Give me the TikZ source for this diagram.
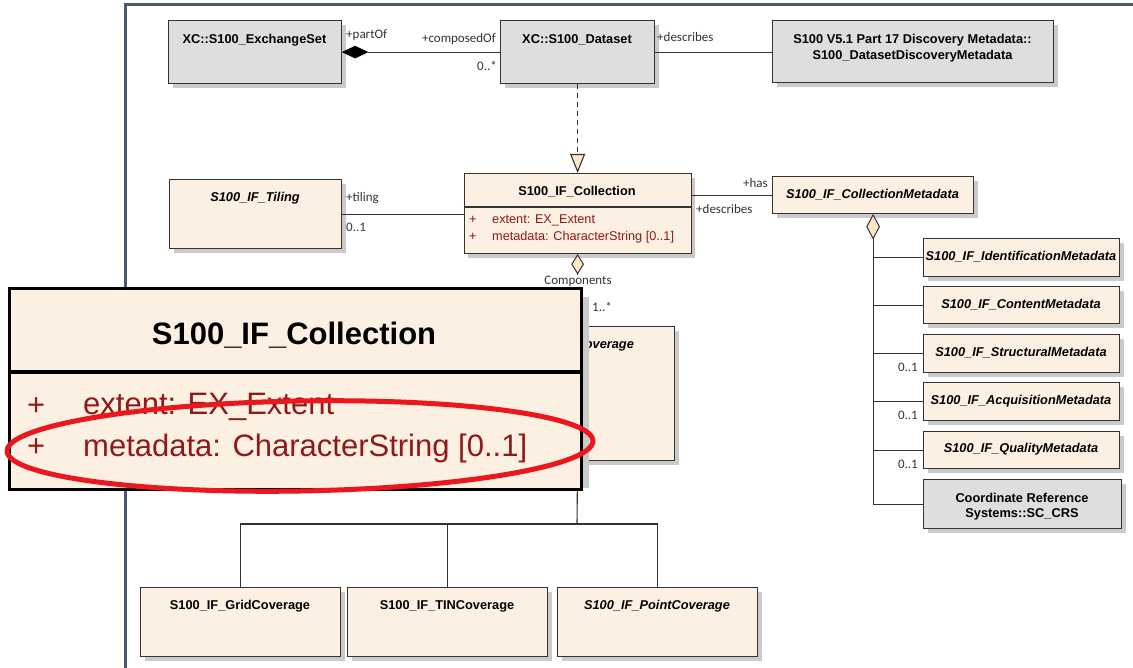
\documentclass[tikz,border=0pt]{standalone}
\usepackage{fontspec}
\setmainfont{Liberation Sans}
\newfontfamily\labf{Carlito}
\usetikzlibrary{arrows.meta,shapes.geometric,shadows,calc}
\definecolor{peach}{RGB}{251,240,226}
\definecolor{grayf}{RGB}{222,222,222}
\definecolor{shd}{RGB}{202,202,202}
\definecolor{linec}{RGB}{51,51,51}
\definecolor{attr}{RGB}{145,25,25}
\definecolor{framec}{RGB}{72,88,112}
\definecolor{dfill}{RGB}{252,229,200}
\definecolor{ovalred}{RGB}{236,22,30}
\tikzset{
 umlbox/.style={draw=linec, line width=1.2pt, fill=peach, inner sep=0pt, anchor=north west,
   drop shadow={shadow xshift=4pt, shadow yshift=-4pt, fill=shd, opacity=1}},
 graybox/.style={umlbox, fill=grayf},
 ttl/.style={font=\fontsize{12.8}{15.5}\selectfont\bfseries, inner sep=0pt, align=center, text=black},
 ttli/.style={font=\fontsize{12.8}{15.5}\selectfont\bfseries\itshape, inner sep=0pt, text=black},
 role/.style={font=\labf\fontsize{13}{15}\selectfont, inner sep=0pt, text=linec},
 attrt/.style={font=\fontsize{12.7}{15}\selectfont, text=attr, inner sep=0pt, anchor=west},
 bigattr/.style={font=\fontsize{31}{36}\selectfont, text=attr, inner sep=0pt, anchor=west},
 conn/.style={draw=linec, line width=1.1pt},
 hdia/.style={diamond, draw=linec, fill=dfill, line width=1pt, inner sep=0pt, anchor=north},
}
\begin{document}
\begin{tikzpicture}[x=1pt,y=-1pt]
\useasboundingbox (0,0) rectangle (1133,668);
% frame of the diagram
\draw[framec, line width=3pt] (125,668) -- (125,5) -- (1133,5);

% top row
\node[graybox, minimum width=173, minimum height=63] (exch) at (168,20) {};
\node[ttl] (exchT) at (254.5,40) {XC::S100\_ExchangeSet};
\node[graybox, minimum width=154, minimum height=63] (ds) at (500,20) {};
\node[ttl] (dsT) at (577,40) {XC::S100\_Dataset};
\node[graybox, minimum width=281, minimum height=62] (disc) at (772,20) {};
\node[ttl] (discT) at (912.5,48) {S100 V5.1 Part 17 Discovery Metadata::\\S100\_DatasetDiscoveryMetadata};

\node[diamond, fill=black, draw=black, line width=0.8pt, inner sep=0pt, minimum width=25pt, minimum height=12pt, anchor=west] (cdia) at (exch.east) {};
\draw[conn] (cdia.east) -- (ds.west);
\draw[conn] (ds.east) -- (disc.west |- ds.east);
\node[role, anchor=west] (lpart) at (346,35) {+partOf};
\node[role, anchor=east] (lcomp) at (496,39) {+composedOf};
\node[role, anchor=east] (lmult) at (497,66) {0..*};
\node[role, anchor=west] (ldesc) at (657,37) {+describes};

% collection row
\node[umlbox, minimum width=172, minimum height=69] (til) at (169,179) {};
\node[ttli] (tilT) at (255,198) {S100\_IF\_Tiling};
\node[umlbox, minimum width=227, minimum height=80] (col) at (463.5,173) {};
\coordinate (sepc) at (0,207);
\draw[conn] (col.west |- sepc) -- (col.east |- sepc);
\node[ttl] (colT) at (577,192) {S100\_IF\_Collection};
\node[attrt] (colP1) at (469,220) {+};
\node[attrt] (colA1) at (492,220) {extent: EX\_Extent};
\node[attrt] (colP2) at (469,237) {+};
\node[attrt] (colA2) at (492,237) {metadata: CharacterString [0..1]};

\draw[conn, dashed, dash pattern=on 5pt off 4pt, -{Triangle[length=19pt,width=15pt,fill=dfill]}] (ds.south) -- (ds.south |- col.north);

\draw[conn] (til.east) -- (til.east -| col.west);
\node[role, anchor=west] (ltil) at (346,198) {+tiling};
\node[role, anchor=west] (ltilm) at (346,227) {0..1};

\node[umlbox, minimum width=201, minimum height=37] (cm) at (772,176) {};
\node[ttli] (cmT) at (872.5,195) {S100\_IF\_CollectionMetadata};
\draw[conn] (col.east |- cm.west) -- (cm.west);
\node[role, anchor=east] (lhas) at (768,183) {+has};
\node[role, anchor=west] (ldesc2) at (696,209) {+describes};

% metadata column
\node[hdia, minimum width=13pt, minimum height=24pt] (adia) at (cm.south) {};
\node[umlbox, minimum width=196, minimum height=38] (idm) at (923,238) {};
\node[ttli] (idmT) at (1021,257) {S100\_IF\_IdentificationMetadata};
\node[umlbox, minimum width=196, minimum height=37] (cnt) at (923,286) {};
\node[ttli] (cntT) at (1021,304.5) {S100\_IF\_ContentMetadata};
\node[umlbox, minimum width=196, minimum height=38] (stm) at (923,334) {};
\node[ttli] (stmT) at (1021,353) {S100\_IF\_StructuralMetadata};
\node[umlbox, minimum width=196, minimum height=38] (acq) at (923,382) {};
\node[ttli] (acqT) at (1021,401) {S100\_IF\_AcquisitionMetadata};
\node[umlbox, minimum width=196, minimum height=37] (qlt) at (923,431) {};
\node[ttli] (qltT) at (1021,449.5) {S100\_IF\_QualityMetadata};
\node[graybox, minimum width=198, minimum height=49] (crs) at (923,479) {};
\node[ttl] (crsT) at (1022,506.5) {Coordinate Reference\\Systems::SC\_CRS};
\draw[conn] (adia.south) |- (idm.west);
\draw[conn] (adia.south) |- (cnt.west);
\draw[conn] (adia.south) |- (stm.west);
\draw[conn] (adia.south) |- (acq.west);
\draw[conn] (adia.south) |- (qlt.west);
\draw[conn] (adia.south) |- (crs.west);
\node[role, anchor=east] (m1) at ($(stm.west)+(-5,14)$) {0..1};
\node[role, anchor=east] (m2) at ($(acq.west)+(-5,14)$) {0..1};
\node[role, anchor=east] (m3) at ($(qlt.west)+(-5,14)$) {0..1};

% coverage
\node[hdia, minimum width=12pt, minimum height=19pt] (gdia) at (col.south) {};
\node[umlbox, minimum width=194, minimum height=134] (cov) at (480,326) {};
\node[ttli] (covT) at (577,345) {S100\_IF\_Coverage};
\draw[conn] (gdia.south) -- (gdia.south |- cov.north);
\node[role, fill=white, inner sep=0.5pt] (lcompn) at (578,281) {Components};
\node[role, anchor=west] (lcm) at (592,307) {1..*};

\node[umlbox, minimum width=200, minimum height=69] (grid) at (140,587) {};
\node[ttl] (gridT) at (240,606) {S100\_IF\_GridCoverage};
\node[umlbox, minimum width=200, minimum height=69] (tin) at (347,587) {};
\node[ttl] (tinT) at (447,606) {S100\_IF\_TINCoverage};
\node[umlbox, minimum width=200, minimum height=69] (pnt) at (557,587) {};
\node[ttli] (pntT) at (657,606) {S100\_IF\_PointCoverage};
\coordinate (gj) at (577,524);
\draw[conn] (cov.south) -- (gj);
\draw[conn] (grid.north) |- (gj) -| (pnt.north);
\draw[conn] (tin.north) -- (tin.north |- gj);

% magnified overlay
\fill[shd] (580,297) rectangle (589,488);
\node[draw=black, line width=3pt, fill=peach, minimum width=572, minimum height=201, anchor=north west, inner sep=0pt] (big) at (8,287) {};
\coordinate (sepb) at (0,372);
\draw[black, line width=3.5pt] (big.west |- sepb) -- (big.east |- sepb);
\node[font=\fontsize{31}{36}\selectfont\bfseries, inner sep=0pt] (bigT) at (294,335) {S100\_IF\_Collection};
\node[bigattr] (bigP1) at (27,407) {+};
\node[bigattr] (bigA1) at (83,407) {extent: EX\_Extent};
\node[bigattr] (bigP2) at (27,448) {+};
\node[bigattr] (bigA2) at (83,448) {metadata: CharacterString [0..1]};
\draw[ovalred, line width=5pt, rotate around={1:(300,446)}] (300,446) ellipse [x radius=293pt, y radius=45pt];
\end{tikzpicture}
\end{document}
